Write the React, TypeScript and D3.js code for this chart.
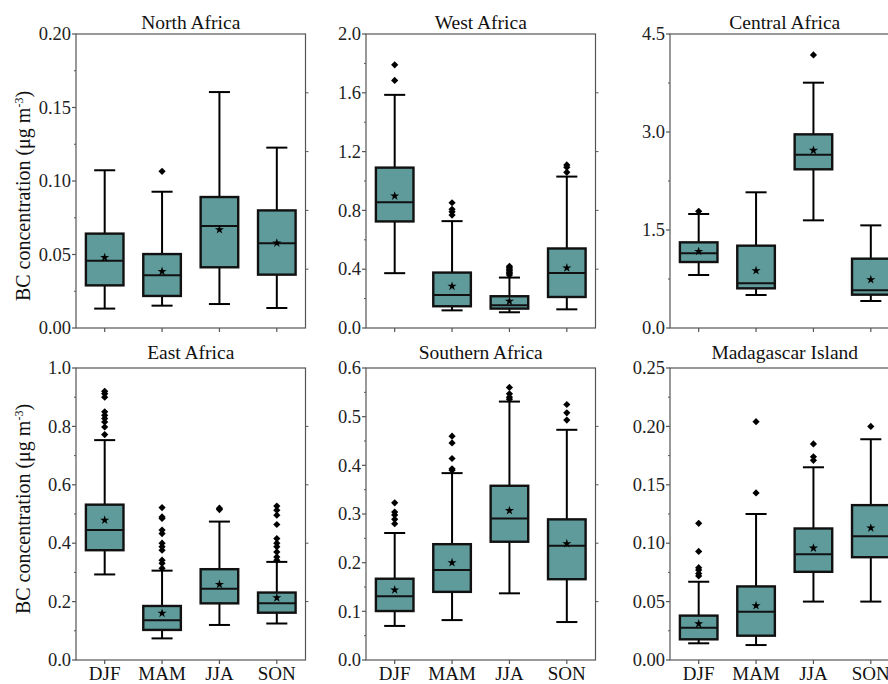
import React from 'react'
import * as d3 from 'd3'

// seasons on the x axis
const seasons = ['DJF', 'MAM', 'JJA', 'SON']
const regionNames = ['North Africa', 'West Africa', 'Central Africa', 'East Africa', 'Southern Africa', 'Madagascar Island']

// per season: [whisker low, Q1, median, Q3, whisker high, mean]
const northAfricaStats = [
  [0.0132, 0.029, 0.0458, 0.0642, 0.1073, 0.048],
  [0.0152, 0.0218, 0.0358, 0.0503, 0.0927, 0.0385],
  [0.0163, 0.0413, 0.0694, 0.0891, 0.1605, 0.0669],
  [0.0136, 0.0363, 0.0576, 0.080, 0.1227, 0.0578],
]
const northAfricaOutliers = [[], [0.1066], [], []]

const westAfricaStats = [
  [0.373, 0.725, 0.855, 1.091, 1.586, 0.898],
  [0.12, 0.148, 0.225, 0.377, 0.727, 0.284],
  [0.107, 0.132, 0.155, 0.216, 0.343, 0.182],
  [0.127, 0.211, 0.375, 0.541, 1.03, 0.409],
]
const westAfricaOutliers = [
  [1.684, 1.79],
  [0.768, 0.79, 0.807, 0.852],
  [0.36, 0.37, 0.38, 0.39, 0.40, 0.41, 0.42],
  [1.059, 1.093, 1.109],
]

const centralAfricaStats = [
  [0.811, 1.01, 1.143, 1.311, 1.745, 1.173],
  [0.505, 0.607, 0.684, 1.26, 2.077, 0.878],
  [1.648, 2.429, 2.653, 2.964, 3.755, 2.719],
  [0.413, 0.51, 0.577, 1.061, 1.571, 0.74],
]
const centralAfricaOutliers = [[1.786], [], [4.18], []]

const eastAfricaStats = [
  [0.293, 0.376, 0.445, 0.532, 0.753, 0.479],
  [0.074, 0.103, 0.136, 0.185, 0.306, 0.16],
  [0.12, 0.194, 0.244, 0.311, 0.474, 0.259],
  [0.125, 0.162, 0.194, 0.231, 0.336, 0.213],
]
const eastAfricaOutliers = [
  [0.772, 0.798, 0.815, 0.827, 0.838, 0.85, 0.90, 0.912, 0.92],
  [0.314, 0.331, 0.342, 0.376, 0.388, 0.40, 0.433, 0.445, 0.485, 0.49, 0.522],
  [0.515, 0.52],
  [0.342, 0.353, 0.37, 0.388, 0.40, 0.416, 0.464, 0.496, 0.513, 0.527],
]

const southernAfricaStats = [
  [0.07, 0.1006, 0.131, 0.167, 0.261, 0.144],
  [0.082, 0.14, 0.185, 0.238, 0.384, 0.2],
  [0.137, 0.243, 0.291, 0.358, 0.531, 0.307],
  [0.078, 0.166, 0.235, 0.289, 0.473, 0.239],
]
const southernAfricaOutliers = [
  [0.28, 0.289, 0.298, 0.304, 0.323],
  [0.39, 0.393, 0.414, 0.446, 0.46],
  [0.536, 0.54, 0.547, 0.56],
  [0.493, 0.508, 0.525],
]

const madagascarStats = [
  [0.0143, 0.0177, 0.0277, 0.038, 0.067, 0.031],
  [0.0128, 0.0208, 0.0413, 0.063, 0.125, 0.0465],
  [0.05, 0.0755, 0.0906, 0.1126, 0.165, 0.0958],
  [0.05, 0.088, 0.106, 0.1326, 0.189, 0.113],
]
const madagascarOutliers = [
  [0.072, 0.074, 0.077, 0.079, 0.093, 0.117],
  [0.143, 0.204],
  [0.171, 0.174, 0.185],
  [0.2],
]

const allStats = [northAfricaStats, westAfricaStats, centralAfricaStats, eastAfricaStats, southernAfricaStats, madagascarStats]
const allOutliers = [northAfricaOutliers, westAfricaOutliers, centralAfricaOutliers, eastAfricaOutliers, southernAfricaOutliers, madagascarOutliers]

// y axis ranges and ticks
const yMaxima = [0.2, 2.0, 4.5, 1.0, 0.6, 0.25]
const tickSteps = [0.05, 0.4, 1.5, 0.2, 0.1, 0.05]
const tickDecimals = [2, 1, 1, 1, 1, 2]

/* layout */
const W = 888
const H = 684
const colLefts = [76, 366, 670]
const panelW = 229.5
const rowTops = [34, 368]
const panelHs = [294, 292]
const titleYs = [29, 359]
const FONT = '"Liberation Serif", "Times New Roman", serif'
const FILL = '#5f9b9b'
const AXIS = '#555'

const starPath = d3.symbol(d3.symbolStar, 26)()
const diamondPath = d3.symbol(d3.symbolSquare, 26)()

function Panel({ idx }: { idx: number }) {
  const col = idx % 3
  const row = Math.floor(idx / 3)
  const left = colLefts[col]
  const top = rowTops[row]
  const h = panelHs[row]
  const bottom = top + h
  const right = left + panelW

  const x = d3.scalePoint<string>().domain(seasons).range([left, right]).padding(0.5)
  const y = d3.scaleLinear().domain([0, yMaxima[idx]]).range([bottom, top])
  const step = tickSteps[idx]
  const majors = d3.range(0, yMaxima[idx] + step / 2, step)
  const minors = d3.range(step / 2, yMaxima[idx], step)
  const fmt = d3.format(`.${tickDecimals[idx]}f`)
  const boxW = x.step() * 0.655
  const capW = boxW * 0.56
  const stats = allStats[idx]
  const outliers = allOutliers[idx]

  return (
    <g>
      <text x={(left + right) / 2} y={titleYs[row]} textAnchor="middle" fontSize={19.5} fontFamily={FONT} fill="#111">
        {regionNames[idx]}
      </text>
      {/* boxes */}
      {seasons.map((s, i) => {
        const [lo, q1, med, q3, hi, mean] = stats[i]
        const cx = x(s) as number
        return (
          <g key={s}>
            <line x1={cx} x2={cx} y1={y(hi)} y2={y(q3)} stroke="#000" strokeWidth={2} />
            <line x1={cx} x2={cx} y1={y(q1)} y2={y(lo)} stroke="#000" strokeWidth={2} />
            <line x1={cx - capW / 2} x2={cx + capW / 2} y1={y(hi)} y2={y(hi)} stroke="#000" strokeWidth={2} />
            <line x1={cx - capW / 2} x2={cx + capW / 2} y1={y(lo)} y2={y(lo)} stroke="#000" strokeWidth={2} />
            <rect x={cx - boxW / 2} y={y(q3)} width={boxW} height={y(q1) - y(q3)} fill={FILL} stroke="#111" strokeWidth={2.4} />
            <line x1={cx - boxW / 2} x2={cx + boxW / 2} y1={y(med)} y2={y(med)} stroke="#111" strokeWidth={2} />
            <path d={starPath!} transform={`translate(${cx},${y(mean)})`} fill="#000" />
            {outliers[i].map((v, k) => (
              <path key={k} d={diamondPath!} transform={`translate(${cx},${y(v)}) rotate(45)`} fill="#000" />
            ))}
          </g>
        )
      })}
      {/* frame */}
      <rect x={left} y={top} width={panelW} height={h} fill="none" stroke={AXIS} strokeWidth={1.2} />
      {/* y ticks */}
      {majors.map((v) => (
        <g key={'M' + v}>
          <line x1={left - 4} x2={left} y1={y(v)} y2={y(v)} stroke={AXIS} strokeWidth={1.2} />
          <text x={left - 5} y={y(v)} dy="0.34em" textAnchor="end" fontSize={18.5} fontFamily={FONT} fill="#222">
            {fmt(v)}
          </text>
        </g>
      ))}
      {minors.map((v) => (
        <line key={'m' + v} x1={left - 2} x2={left} y1={y(v)} y2={y(v)} stroke={AXIS} strokeWidth={1} />
      ))}
      {d3.range(1, 5).map((k) => (
        <line key={'r' + k} x1={right} x2={right + 3} y1={bottom - (h * k) / 5} y2={bottom - (h * k) / 5} stroke={AXIS} strokeWidth={1} />
      ))}
      {/* x ticks */}
      {seasons.map((s) => (
        <line key={'x' + s} x1={x(s)} x2={x(s)} y1={bottom} y2={bottom + 4} stroke={AXIS} strokeWidth={1.2} />
      ))}
      {row === 1 &&
        seasons.map((s) => (
          <text key={'xl' + s} x={x(s)} y={680} textAnchor="middle" fontSize={19} fontFamily={FONT} fill="#111">
            {s}
          </text>
        ))}
      {col === 0 && (
        <text
          transform={`translate(23,${row === 0 ? 196 : 509}) rotate(-90)`}
          dy="0.35em"
          textAnchor="middle"
          fontSize={20}
          fontFamily={FONT}
          fill="#111"
        >
          BC concentration (μg m
          <tspan fontSize={12} dy={-7}>-3</tspan>
          <tspan dy={7}>)</tspan>
        </text>
      )}
    </g>
  )
}

export default function App() {
  return (
    <svg width={W} height={H} style={{ position: 'absolute', left: 0, top: 0, background: '#fff' }}>
      <rect width={W} height={H} fill="#fff" />
      {regionNames.map((_, i) => (
        <Panel key={i} idx={i} />
      ))}
    </svg>
  )
}
